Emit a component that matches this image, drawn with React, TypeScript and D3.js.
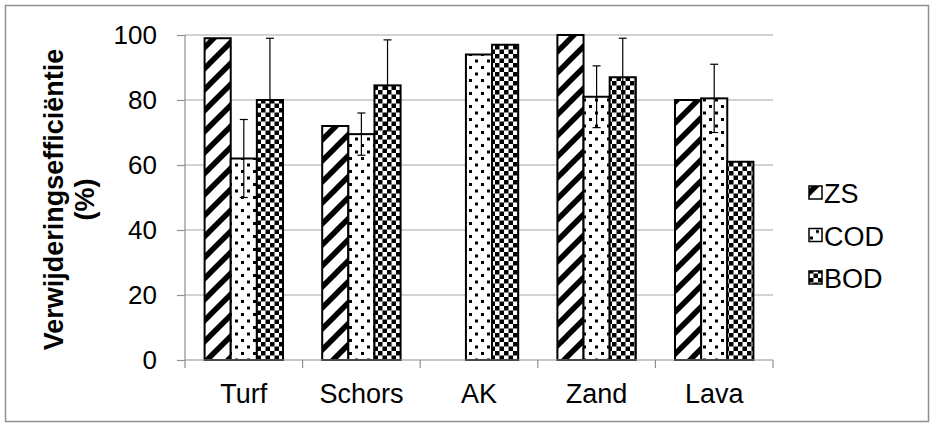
import * as d3 from "d3";
import { useEffect, useRef } from "react";

const categories = ["Turf", "Schors", "AK", "Zand", "Lava"];
const seriesNames = ["ZS", "COD", "BOD"];
const zsValues = [99, 72, 0, 100, 80];
const codValues = [62, 69.5, 94, 81, 80.5];
const bodValues = [80, 84.5, 97, 87, 61];
const zsErrors = [0, 0, 0, 0, 0];
const codErrors = [12, 6.5, 0, 9.5, 10.5];
const bodErrors = [19, 14, 0, 12, 0];
const yTicks = [0, 20, 40, 60, 80, 100];

const App: React.FC = () => {
  const ref = useRef<SVGSVGElement | null>(null);

  useEffect(() => {
    const svg = d3.select(ref.current);
    svg.selectAll("*").remove();

    const width = 930,
      height = 425;
    const plot = { left: 185, right: 773, top: 35, bottom: 360 };
    const font = "'Liberation Sans', Arial, sans-serif";
    const gray = "#8f8f8f";

    const values = [zsValues, codValues, bodValues];
    const errors = [zsErrors, codErrors, bodErrors];
    const fills = ["url(#pat-zs)", "url(#pat-cod)", "url(#pat-bod)"];

    // patterns
    const defs = svg.append("defs");
    const zs = defs
      .append("pattern")
      .attr("id", "pat-zs")
      .attr("patternUnits", "userSpaceOnUse")
      .attr("width", 21)
      .attr("height", 21);
    zs.append("rect").attr("width", 21).attr("height", 21).attr("fill", "#fff");
    zs.append("path")
      .attr("d", "M-5.25,5.25L5.25,-5.25M0,21L21,0M15.75,26.25L26.25,15.75")
      .attr("stroke", "#000")
      .attr("stroke-width", 5.5);

    const cod = defs
      .append("pattern")
      .attr("id", "pat-cod")
      .attr("patternUnits", "userSpaceOnUse")
      .attr("width", 12)
      .attr("height", 13);
    cod.append("rect").attr("width", 12).attr("height", 13).attr("fill", "#fff");
    cod.append("rect").attr("x", 1).attr("y", 1).attr("width", 3).attr("height", 3).attr("fill", "#000");
    cod.append("rect").attr("x", 7).attr("y", 7.5).attr("width", 3).attr("height", 3).attr("fill", "#000");

    const bod = defs
      .append("pattern")
      .attr("id", "pat-bod")
      .attr("patternUnits", "userSpaceOnUse")
      .attr("width", 9)
      .attr("height", 9);
    bod.append("rect").attr("width", 9).attr("height", 9).attr("fill", "#fff");
    bod.append("rect").attr("width", 4.5).attr("height", 4.5).attr("fill", "#000");
    bod.append("rect").attr("x", 4.5).attr("y", 4.5).attr("width", 4.5).attr("height", 4.5).attr("fill", "#000");

    // outer border
    svg
      .append("rect")
      .attr("x", 5.5)
      .attr("y", 5.5)
      .attr("width", width - 7)
      .attr("height", height - 9)
      .attr("fill", "#fff")
      .attr("stroke", gray)
      .attr("stroke-width", 1.5);

    const xScale = d3.scaleBand().domain(categories).range([plot.left, plot.right]);
    const xInner = d3
      .scaleBand()
      .domain(seriesNames)
      .range([0, xScale.bandwidth()])
      .paddingInner(0)
      .paddingOuter(0.75);
    const yScale = d3.scaleLinear().domain([0, 100]).range([plot.bottom, plot.top]);

    // gridlines
    svg
      .append("g")
      .selectAll("line")
      .data(yTicks.filter((d) => d > 0))
      .join("line")
      .attr("x1", plot.left)
      .attr("x2", plot.right)
      .attr("y1", (d) => yScale(d))
      .attr("y2", (d) => yScale(d))
      .attr("stroke", "#a6a6a6")
      .attr("stroke-width", 1.2);

    // y axis
    const yAxis = svg
      .append("g")
      .attr("transform", `translate(${plot.left},0)`)
      .call(d3.axisLeft(yScale).tickValues(yTicks).tickSize(8).tickPadding(20));
    yAxis.selectAll("path,line").attr("stroke", gray).attr("stroke-width", 1.2);
    yAxis.select(".domain").attr("d", `M0,${plot.top}V${plot.bottom}`);
    yAxis
      .selectAll("text")
      .attr("font-family", font)
      .attr("font-size", 26)
      .attr("fill", "#000");

    // bars
    seriesNames.forEach((name, si) => {
      svg
        .append("g")
        .selectAll("rect")
        .data(categories)
        .join("rect")
        .filter((_, i) => values[si][i] > 0)
        .attr("x", (c) => (xScale(c) ?? 0) + (xInner(name) ?? 0))
        .attr("width", xInner.bandwidth())
        .attr("y", (c) => yScale(values[si][categories.indexOf(c)]))
        .attr("height", (c) => plot.bottom - yScale(values[si][categories.indexOf(c)]))
        .attr("fill", fills[si])
        .attr("stroke", "#000")
        .attr("stroke-width", 2);
    });

    // x axis
    svg
      .append("line")
      .attr("x1", plot.left)
      .attr("x2", plot.right)
      .attr("y1", plot.bottom)
      .attr("y2", plot.bottom)
      .attr("stroke", gray)
      .attr("stroke-width", 1.2);
    svg
      .append("g")
      .selectAll("line")
      .data([...categories.map((c) => xScale(c) ?? 0), plot.right])
      .join("line")
      .attr("x1", (d) => d)
      .attr("x2", (d) => d)
      .attr("y1", plot.bottom)
      .attr("y2", plot.bottom + 8)
      .attr("stroke", gray)
      .attr("stroke-width", 1.2);
    svg
      .append("g")
      .selectAll("text")
      .data(categories)
      .join("text")
      .attr("x", (c) => (xScale(c) ?? 0) + xScale.bandwidth() / 2)
      .attr("y", 403)
      .attr("text-anchor", "middle")
      .attr("font-family", font)
      .attr("font-size", 27)
      .text((c) => c);

    // error bars
    seriesNames.forEach((name, si) => {
      categories.forEach((c, i) => {
        const e = errors[si][i];
        if (!e) return;
        const cx = (xScale(c) ?? 0) + (xInner(name) ?? 0) + xInner.bandwidth() / 2;
        const v = values[si][i];
        const g = svg.append("g").attr("stroke", "#000").attr("stroke-width", 1.2);
        g.append("line").attr("x1", cx).attr("x2", cx).attr("y1", yScale(v + e)).attr("y2", yScale(v - e));
        [v + e, v - e].forEach((w) =>
          g
            .append("line")
            .attr("x1", cx - 4)
            .attr("x2", cx + 4)
            .attr("y1", yScale(w))
            .attr("y2", yScale(w))
        );
      });
    });

    // y title
    const title = svg
      .append("text")
      .attr("transform", `translate(63,${(plot.top + plot.bottom) / 2 + 2}) rotate(-90)`)
      .attr("text-anchor", "middle")
      .attr("font-family", font)
      .attr("font-size", 27)
      .attr("font-weight", "bold");
    title.append("tspan").attr("x", 0).attr("y", 0).text("Verwijderingsefficiëntie");
    title.append("tspan").attr("x", 0).attr("y", 31).text("(%)");

    // legend
    const legend = svg
      .append("g")
      .selectAll("g")
      .data(seriesNames)
      .join("g")
      .attr("transform", (_, i) => `translate(809,${193 + i * 42.5})`);
    legend
      .append("rect")
      .attr("y", -7)
      .attr("width", 13)
      .attr("height", 13)
      .attr("fill", (_, i) => fills[i])
      .attr("stroke", "#000")
      .attr("stroke-width", 1.5);
    legend
      .append("text")
      .attr("x", 15)
      .attr("y", 10)
      .attr("font-family", font)
      .attr("font-size", 27)
      .text((d) => d);
  }, []);

  return (
    <svg
      ref={ref}
      width={930}
      height={425}
      style={{ position: "absolute", left: 0, top: 0 }}
    ></svg>
  );
};

export default App;
